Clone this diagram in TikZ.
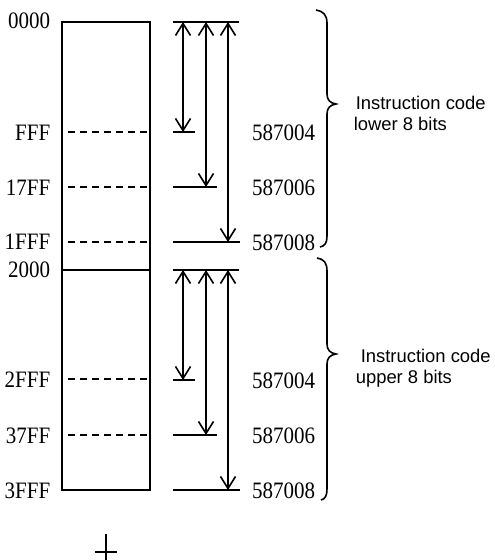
\documentclass[tikz,border=0pt]{standalone}
\usepackage{fontspec}
\setmainfont{Liberation Serif}
\setsansfont{Liberation Sans}
\usetikzlibrary{arrows.meta, positioning}
\tikzset{
  adrlabel/.style={anchor=east, inner sep=0pt, font=\fontsize{10.5}{13}\selectfont},
  codetext/.style={anchor=west, inner sep=0pt, font=\sffamily\fontsize{9.2}{11}\selectfont},
  span/.style={{Straight Barb[length=6pt,width=7.5pt]}-{Straight Barb[length=6pt,width=7.5pt]}},
  gap/.style={dash pattern=on 3.5pt off 2.5pt}
}
\newcommand{\tallnum}[1]{\scalebox{1}[1.12]{#1}}

\begin{document}
\begin{tikzpicture}[x=0.5pt, y=-0.5pt, line width=0.8pt]
  \useasboundingbox (0,0) rectangle (494,560);
  % memory area
  \draw (62,22) rectangle (150,490);
  \draw (62,270) -- (150,270);
  \foreach \y/\lbl/\n in {21/0000/a, 133/FFF/b, 188/17FF/c, 242/1FFF/d, 270/2000/e, 380/2FFF/f, 436/37FF/g, 491/3FFF/h} {
    \node[adrlabel] (adr\n) at (51,\y) {\tallnum{\lbl}};
  }
  \foreach \y in {132, 187, 242, 379, 435} {
    \draw[gap] (68,\y) -- (150,\y);
  }
  % transfer ranges
  \foreach \blk/\ty in {lo/22, up/270} {
    \draw (173,\ty) -- (239,\ty);
    \foreach \i/\x/\len/\w/\num in {1/183/110/195/587004, 2/206/165/217/587006, 3/228/220/240/587008} {
      \coordinate (\blk s\i) at (\x,\ty);
      \coordinate (\blk e\i) at (\x,\ty+\len);
      \draw[span] (\blk s\i) -- (\blk e\i);
      \draw (173,\ty+\len) -- (\w,\ty+\len);
      \node[adrlabel] (\blk n\i) at (316,\ty+\len+1) {\tallnum{\num}};
    }
  }
  % braces
  \draw (316,10) .. controls (323,11) and (327,15) .. (327,23) -- (327,94)
    .. controls (327,100) and (330,103) .. (336,104)
    .. controls (330,105) and (327,108) .. (327,114) -- (327,236)
    .. controls (327,243) and (325,246) .. (320,247);
  \draw (317,258) .. controls (324,259) and (327,263) .. (327,271) -- (327,344)
    .. controls (327,350) and (330,353) .. (336,354)
    .. controls (330,355) and (327,358) .. (327,364) -- (327,489)
    .. controls (327,496) and (325,499) .. (321,500);
  \node[codetext] (lotop) at (355,103) {Instruction code};
  \node[codetext] (lobot) at (353,124) {lower 8 bits};
  \node[codetext] (uptop) at (360,356) {Instruction code};
  \node[codetext] (upbot) at (355,379) {upper 8 bits};
  % mark
  \draw (95,552) -- (117,552);
  \draw (106,534) -- (106,560);
\end{tikzpicture}
\end{document}
